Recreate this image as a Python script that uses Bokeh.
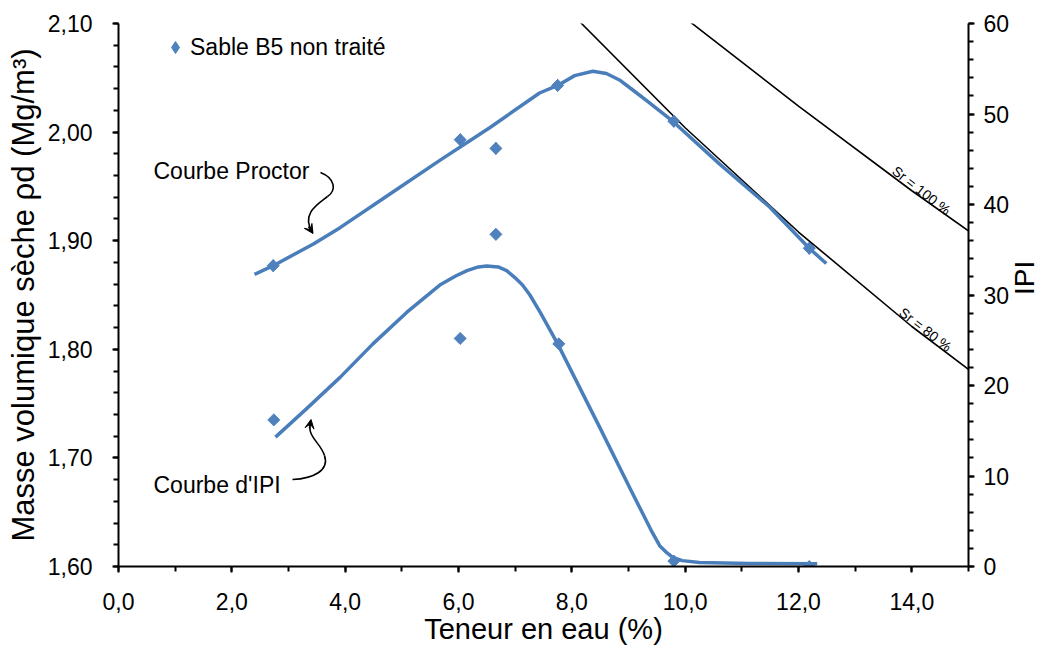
import math
from bokeh.plotting import figure
from bokeh.models import (Range1d, LinearAxis, SingleIntervalTicker, CustomJSTickFormatter,
                          Label, Legend, LegendItem, Arrow, VeeHead)
from bokeh.embed import file_html
from bokeh.resources import INLINE

# ---------------- data ----------------
w_proctor_pts = [2.73, 6.03, 6.66, 7.75, 9.80, 12.19]
rho_proctor_pts = [1.877, 1.993, 1.985, 2.043, 2.010, 1.893]

w_ipi_pts = [2.74, 6.03, 6.66, 7.77, 9.80, 12.19]
ipi_pts = [16.2, 25.2, 36.7, 24.6, 0.6, 0.0]

w_proctor_curve = [2.40, 2.73, 3.44, 3.91, 4.79, 5.67, 6.55, 7.43, 7.75, 8.05, 8.37, 8.61,
                   8.84, 9.07, 9.32, 9.78, 10.60, 11.49, 12.19, 12.49]
rho_proctor_curve = [1.869, 1.877, 1.897, 1.912, 1.943, 1.974, 2.004, 2.036, 2.043, 2.052, 2.056, 2.054,
                     2.048, 2.039, 2.029, 2.010, 1.971, 1.931, 1.893, 1.879]

w_ipi_curve = [2.77, 3.33, 3.91, 4.49, 5.09, 5.67, 5.95, 6.15, 6.35, 6.50, 6.70, 6.85, 7.00, 7.13,
               7.26, 7.45, 7.75, 8.49, 9.07, 9.40, 9.55, 9.68, 9.78, 9.95, 10.25, 11.13, 12.33]
ipi_curve = [14.3, 17.5, 20.9, 24.6, 28.1, 31.1, 32.1, 32.7, 33.1, 33.2, 33.1, 32.7, 31.9, 31.1,
             30.0, 28.0, 24.6, 15.4, 8.1, 4.0, 2.3, 1.5, 1.0, 0.65, 0.44, 0.33, 0.3]

w_sr100 = [10, 12, 14, 16]
rho_sr100 = [2.105, 2.024, 1.946, 1.872]
w_sr80 = [8, 10, 12, 14, 16]
rho_sr80 = [2.109, 2.004, 1.908, 1.821, 1.742]

series_label = "Sable B5 non traité"
x_title = "Teneur en eau (%)"
y_title = "Masse volumique sèche ρd (Mg/m³)"
y2_title = "IPI"

# ---------------- style ----------------
FONT = "Liberation Sans"
BLUE_M = "#4F81BD"
BLUE_L = "#4A7EBB"

FW, FH = 850, 543
BL, BR, BT, BB = 118, 82, 23, 81
X0, X1, Y0, Y1 = 0.0, 15.0, 1.60, 2.10


# helpers to place annotations from page pixel positions
def dx(px):
    return X0 + (px - BL) / FW * (X1 - X0)


def dy(py):
    return Y1 - (py - BT) / FH * (Y1 - Y0)


p = figure(frame_width=FW, frame_height=FH,
           min_border_left=BL, min_border_right=BR, min_border_top=BT, min_border_bottom=BB,
           x_range=Range1d(X0, X1), y_range=Range1d(Y0, Y1),
           output_backend="svg", toolbar_location=None,
           background_fill_color="white", border_fill_color="white")
p.extra_y_ranges = {"ipi": Range1d(0, 60)}
p.outline_line_color = None
p.xgrid.visible = False
p.ygrid.visible = False


def style_axis(ax, standoff):
    ax.axis_line_width = 2
    ax.axis_line_color = "black"
    ax.major_tick_line_width = 2
    ax.minor_tick_line_width = 2
    ax.major_tick_line_color = "black"
    ax.minor_tick_line_color = "black"
    ax.major_tick_in = 0
    ax.major_tick_out = 6
    ax.minor_tick_in = 0
    ax.minor_tick_out = 5
    ax.major_label_text_font = FONT
    ax.major_label_text_font_size = "23px"
    ax.major_label_text_color = "black"
    ax.major_label_standoff = standoff
    ax.axis_label_text_font = FONT
    ax.axis_label_text_font_style = "normal"
    ax.axis_label_text_color = "black"


xa = p.xaxis[0]
xa.ticker = SingleIntervalTicker(interval=2, num_minor_ticks=2)
xa.formatter = CustomJSTickFormatter(code="return tick.toFixed(1).replace('.', ',');")
style_axis(xa, 20)
xa.axis_label = x_title
xa.axis_label_text_font_size = "29px"
xa.axis_label_standoff = 0

ya = p.yaxis[0]
ya.ticker = SingleIntervalTicker(interval=0.1, num_minor_ticks=5)
ya.formatter = CustomJSTickFormatter(code="return tick.toFixed(2).replace('.', ',');")
style_axis(ya, 20)
ya.axis_label = y_title
ya.axis_label_text_font_size = "31px"
ya.axis_label_standoff = 4

ra = LinearAxis(y_range_name="ipi")
ra.ticker = SingleIntervalTicker(interval=10, num_minor_ticks=5)
ra.formatter = CustomJSTickFormatter(code="return tick.toFixed(0);")
style_axis(ra, 9)
ra.axis_label = y2_title
ra.axis_label_text_font_size = "28px"
ra.axis_label_standoff = 12
ra.axis_label_orientation = math.pi / 2
p.add_layout(ra, "right")

# saturation lines
p.line(w_sr100, rho_sr100, line_color="black", line_width=1.6)
p.line(w_sr80, rho_sr80, line_color="black", line_width=1.6)

# curves
p.line(w_proctor_curve, rho_proctor_curve, line_color=BLUE_L, line_width=3.5, line_join="round")
p.line(w_ipi_curve, ipi_curve, line_color=BLUE_L, line_width=3.5, line_join="round",
       y_range_name="ipi")

# points: a diamond renderer (used for the legend swatch) under the rotated squares
r_leg = p.scatter(w_proctor_pts, rho_proctor_pts, marker="diamond", size=12,
                  fill_color=BLUE_M, line_color=BLUE_M)
p.scatter(w_proctor_pts, rho_proctor_pts, marker="square", size=8.5, angle=math.pi / 4,
          fill_color=BLUE_M, line_color=BLUE_M)
p.scatter(w_ipi_pts, ipi_pts, marker="square", size=8.5, angle=math.pi / 4,
          fill_color=BLUE_M, line_color=BLUE_M, y_range_name="ipi")

legend = Legend(items=[LegendItem(label=series_label, renderers=[r_leg])],
                location=(42, 504), border_line_color=None, background_fill_alpha=0,
                padding=0, margin=0, glyph_width=30, glyph_height=30, label_standoff=0,
                label_text_font=FONT, label_text_font_size="23px", label_text_color="black")
p.add_layout(legend)

# curved arrows
p.bezier(x0=[dx(320), dx(327)], y0=[dy(172), dy(196)],
         x1=[dx(327), dx(312)], y1=[dy(196), dy(232)],
         cx0=[dx(335), dx(318)], cy0=[dy(178), dy(203)],
         cx1=[dx(336), dx(300)], cy1=[dy(190), dy(213)],
         line_color="black", line_width=1.6)
p.add_layout(Arrow(end=VeeHead(size=9, fill_color="black", line_color="black", line_width=1),
                   x_start=dx(308), y_start=dy(226), x_end=dx(312.5), y_end=dy(233),
                   line_color="black", line_width=1.6))

p.bezier(x0=[dx(292), dx(324)], y0=[dy(479), dy(455)],
         x1=[dx(324), dx(310)], y1=[dy(455), dy(422)],
         cx0=[dx(313), dx(320)], cy0=[dy(478), dy(442)],
         cx1=[dx(329), dx(306)], cy1=[dy(470), dy(436)],
         line_color="black", line_width=1.6)
p.add_layout(Arrow(end=VeeHead(size=9, fill_color="black", line_color="black", line_width=1),
                   x_start=dx(309), y_start=dy(428), x_end=dx(310.5), y_end=dy(419),
                   line_color="black", line_width=1.6))


# annotation texts (inside the frame)
def add_label(txt, px, py, size, align="left", baseline="alphabetic", angle=0.0):
    p.add_layout(Label(x=dx(px), y=dy(py), text=txt, text_font=FONT, text_font_size=size,
                       text_align=align, text_baseline=baseline, text_color="black",
                       angle=angle, angle_units="deg"))


add_label("Courbe Proctor", 153, 170, "23px")
add_label("Courbe d'IPI", 153, 484, "23px")
add_label("Sr = 100 %", 921, 190, "14px", align="center", baseline="middle", angle=-38)
add_label("Sr = 80 %", 925, 329, "14px", align="center", baseline="middle", angle=-38)

open("out.html", "w").write(file_html(p, INLINE))
